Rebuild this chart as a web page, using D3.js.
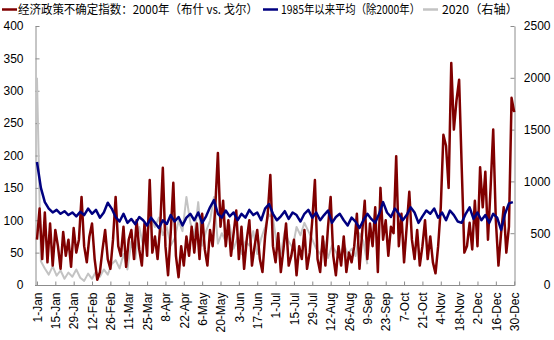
<!DOCTYPE html>
<html><head><meta charset="utf-8">
<script src="https://cdn.jsdelivr.net/npm/d3@7"></script>
<style>body{margin:0;background:#fff}svg{display:block}</style>
</head><body>
<svg id="c" width="554" height="340"></svg>
<script>
const tickLabels = ["1-Jan","15-Jan","29-Jan","12-Feb","26-Feb","11-Mar","25-Mar","8-Apr","22-Apr","6-May","20-May","3-Jun","17-Jun","1-Jul","15-Jul","29-Jul","12-Aug","26-Aug","9-Sep","23-Sep","7-Oct","21-Oct","4-Nov","18-Nov","2-Dec","16-Dec","30-Dec"];
const leftTicks = [0,50,100,150,200,250,300,350,400];
const rightTicks = [0,500,1000,1500,2000,2500];
const seriesNames = ["经济政策不确定指数：2000年（布什 vs. 戈尔）","1985年以来平均（除2000年）","2020（右轴）"];

// 2000 EPU index, every 2 days from 1-Jan
const epu2000 = [70,118,40,112,35,95,30,85,60,25,82,45,70,28,88,50,
70,136,60,35,75,95,40,8,20,55,85,40,25,70,136,
60,45,90,28,70,85,40,100,55,30,95,45,162,50,75,
40,90,181,60,15,80,158,45,12,60,30,75,45,90,50,
95,40,110,55,30,85,60,120,204,90,130,60,100,45,80,
115,40,90,25,70,100,30,60,85,40,20,75,110,170,60,
35,80,20,55,95,30,45,70,15,60,40,85,25,50,100,
162,40,20,75,30,90,136,45,15,60,30,75,20,50,35,
60,110,25,80,130,40,95,60,120,20,150,70,100,45,90,
80,199,60,110,35,90,144,70,40,85,30,60,100,40,75,
35,18,60,120,232,215,150,343,240,285,317,180,50,60,96,
55,130,60,182,120,175,70,150,240,100,30,80,120,50,90,289,267];

// average since 1985 (excl. 2000), every 3 days
const avg1985 = [190,150,128,118,112,116,110,114,108,112,
106,113,108,118,110,116,104,112,127,118,
105,98,110,96,102,94,105,100,92,104,
96,88,100,94,108,98,105,92,104,110,
100,112,96,106,120,131,110,104,115,106,
112,100,110,104,116,108,112,100,118,125,
110,100,106,114,102,112,108,98,110,116,
104,112,100,108,115,96,105,110,100,92,
104,98,88,100,110,102,96,110,128,112,
105,118,110,100,108,120,112,96,106,115,
110,118,104,112,100,115,108,98,96,110,
120,102,112,100,108,96,110,104,85,110,
126,128];

// 2020 (right axis), every 3 days
const epu2020 = [2000,230,160,100,180,90,140,60,120,80,
150,70,40,110,60,130,80,150,100,200,
240,160,300,150,420,250,560,380,500,640,
560,650,480,560,380,450,620,520,850,600,
470,800,380,520,620,850,400,500,420,580,
350,460,300,420,380,520,300,450,560,680,
650,380,300,520,420,360,560,480,600,520,
440,350,300,420,260,380,320,250,400,300,
350,280,500,420,200];

const svg = d3.select("#c");
const x = d3.scaleLinear().domain([-1.5, 365]).range([35, 515.5]);
const yL = d3.scaleLinear().domain([0, 400]).range([285, 26]);
const yR = d3.scaleLinear().domain([0, 2500]).range([285, 26]);
const axisCol = "#8c8c8c";
const font = "'Liberation Sans', Arial, sans-serif";

// axes
const gL = svg.append("g").attr("transform","translate(35.5,0)")
  .call(d3.axisLeft(yL).tickValues(leftTicks).tickFormat(d3.format("d")).tickSizeInner(-4).tickSizeOuter(0).tickPadding(12));
const gR = svg.append("g").attr("transform","translate(514.5,0)")
  .call(d3.axisRight(yR).tickValues(rightTicks).tickFormat(d3.format("d")).tickSizeInner(-4).tickSizeOuter(0).tickPadding(36));
gR.selectAll("text").attr("text-anchor","end");
const gX = svg.append("g").attr("transform","translate(0,285.5)")
  .call(d3.axisBottom(x).tickValues(tickLabels.map((d,i)=>i*14)).tickFormat((d,i)=>tickLabels[i]).tickSizeInner(-4).tickSizeOuter(0));
gX.select(".domain").attr("d","M35,0H514.5");
gX.selectAll("text").attr("transform","rotate(-90)").attr("text-anchor","end")
  .attr("x",-7).attr("y",0).attr("dy","0.35em");
[gL,gR,gX].forEach(g=>{
  g.selectAll(".domain,line").attr("stroke",axisCol);
  g.selectAll("text").attr("font-family",font).attr("font-size",12).attr("fill","#000");
});

const line = (ys, step) => d3.line().x((d,i)=>x(i*step)).y(d=>ys(d));
svg.append("path").datum(epu2020).attr("d", line(yR,3)).attr("fill","none")
  .attr("stroke","#c3c3c3").attr("stroke-width",2).attr("stroke-linejoin","round");
svg.append("path").datum(epu2000).attr("d", line(yL,2)).attr("fill","none")
  .attr("stroke","#800000").attr("stroke-width",2.5).attr("stroke-linejoin","round");
svg.append("path").datum(avg1985).attr("d", line(yL,3)).attr("fill","none")
  .attr("stroke","#000080").attr("stroke-width",2.5).attr("stroke-linejoin","round");

// legend
const leg = [
  {c:"#800000", lx:2, tx:18, w:240},
  {c:"#000080", lx:263, tx:281, w:139},
  {c:"#c3c3c3", lx:423, tx:442, w:76}
];
leg.forEach((l,i)=>{
  svg.append("line").attr("x1",l.lx).attr("x2",l.lx+15).attr("y1",9.5).attr("y2",9.5)
    .attr("stroke",l.c).attr("stroke-width",2.5);
  svg.append("text").attr("x",l.tx).attr("y",14).text(seriesNames[i])
    .attr("font-family","'Noto Sans CJK SC', sans-serif").attr("font-size",12)
    .attr("textLength",l.w).attr("lengthAdjust","spacingAndGlyphs").attr("fill","#000");
});
</script>
</body></html>
